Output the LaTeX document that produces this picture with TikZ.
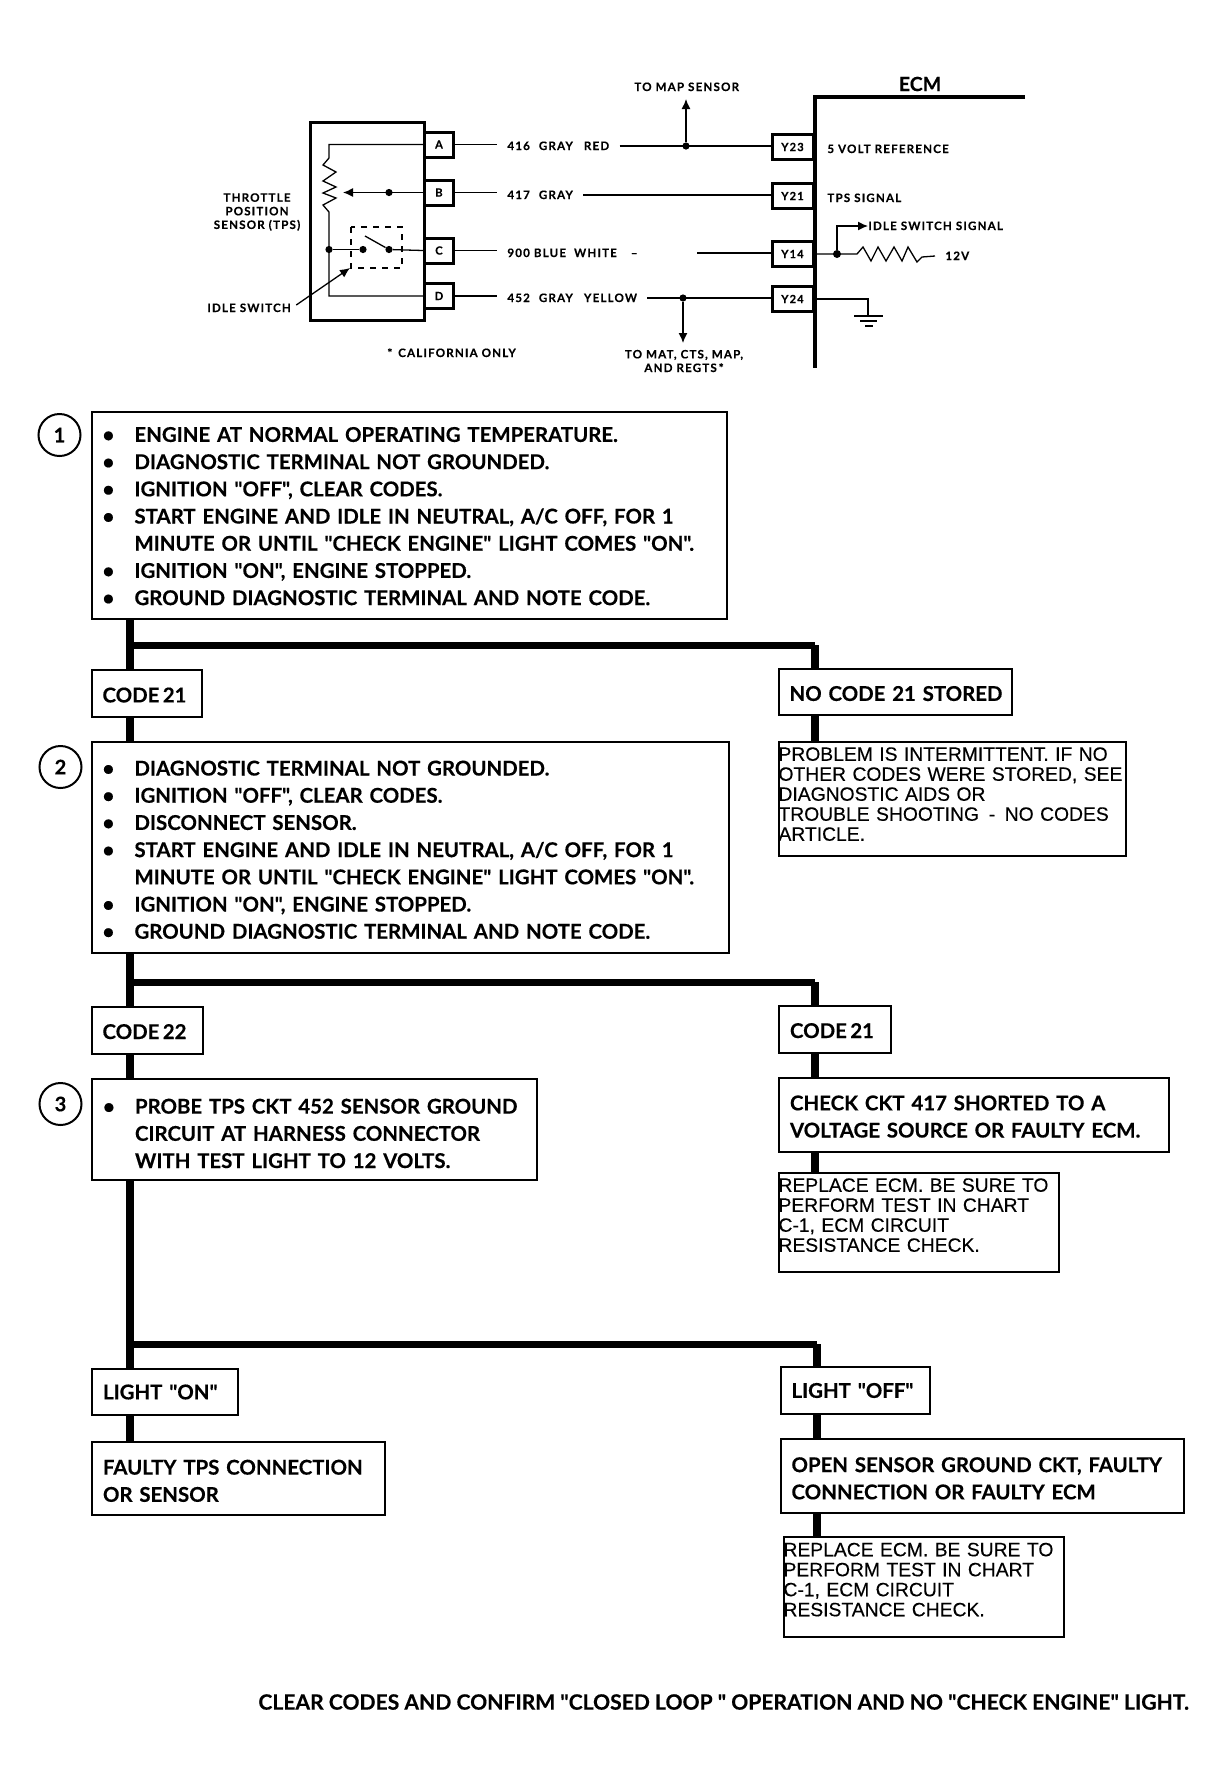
\documentclass[tikz,border=0pt]{standalone}
\usepackage{fontspec}
\usetikzlibrary{arrows.meta}
\setmainfont{Lato}[Ligatures=TeXOff, BoldFeatures={FakeBold=.35}]
\newfontfamily\wirefont{Lato}[LetterSpace=10, BoldFeatures={FakeBold=.3}]
\newfontfamily\notefont{Liberation Sans}[FakeBold=.25]

\tikzset{
	flowbox/.style={draw, line width=1pt, anchor=north west, inner xsep=5.5pt, inner ysep=0pt, align=left,
		font=\bfseries\fontsize{10.2}{13.6}\selectfont},
	notebox/.style={draw, line width=1pt, anchor=north west, inner xsep=0pt, inner ysep=0pt, align=left,
		font=\notefont\fontsize{9.65}{10}\selectfont},
	stepmark/.style={draw, circle, line width=1pt, minimum size=21pt, inner sep=0pt,
		font=\bfseries\fontsize{10}{12}\selectfont},
	pinbox/.style={draw, line width=1.5pt, inner sep=0pt, font=\wirefont\bfseries\fontsize{5.6}{6}\selectfont},
	tag/.style={inner sep=0pt, anchor=west, text height=4pt, text depth=0pt, font=\wirefont\bfseries\fontsize{5.8}{7}\selectfont},
	tagblock/.style={inner sep=0pt, align=center, font=\wirefont\bfseries\fontsize{5.8}{6.8}\selectfont},
	wiretag/.style={tag, inner xsep=5pt},
	jdot/.style={circle, fill, inner sep=0pt, minimum size=3.6pt},
	wire/.style={line width=.65pt},
	trunk/.style={line width=4pt},
	rail/.style={line width=3.5pt},
	tip/.style={-{Latex[length=5pt,width=4.5pt]}}
}

\newcommand{\bul}{\makebox[16pt][l]{\textbullet}}
\newcommand{\nobul}{\hspace*{16pt}}
\newcommand{\drop}[1]{\rule{0pt}{#1pt}}

\begin{document}
\begin{tikzpicture}[x=.5pt,y=-.5pt]

	\useasboundingbox (0,0) rectangle (1223,1784);

	% sensor
	\node (tps) at (309,121) [draw, line width=1.5pt, anchor=north west, minimum width=57pt, minimum height=99pt] {};

	\foreach \n/\t/\y in {pa/A/144.5, pb/B/192.5, pc/C/250.5, pd/D/296} {
		\node (\n) at (439,\y) [pinbox, fill=white, minimum width=14.5pt, minimum height=12.5pt] {\t};
	}

	\coordinate (rtop) at (329,144.5);
	\coordinate (rbot) at (329,296);
	\node (jres) at (329,249.5) [jdot] {};
	\node (sw) at (363,249.5) [jdot] {};
	\node (swb) at (389,249.5) [jdot] {};
	\node (wipe) at (389,192.5) [jdot] {};
	\coordinate (wtip) at (343,192.5);
	\coordinate (bladeend) at (365,236);

	\draw [wire] (pa.west) -- (rtop) -- (329,158) -- (323,165) -- (336,172) -- (323,181) -- (336,187)
		-- (323,193) -- (336,198) -- (323,205) -- (329,212) -- (rbot) -- (pd.west);
	\draw [wire] (jres) -- (sw);
	\draw [wire] (swb) -- (pc.west);
	\draw [wire] (bladeend) -- (swb);
	\draw [wire, tip] (pb.west) -- (wtip);
	\draw [wire, dash pattern=on 3pt off 3pt] (351,227) rectangle (402,268);

	\node (idle) at (207,308) [tag] {IDLE SWITCH};
	\coordinate (idletip) at (350,268);
	\draw [wire, tip] (idle.east)++(5,-3) -- (idletip);

	\node (tpsname) at (257,212) [tagblock] {THROTTLE\\POSITION\\SENSOR (TPS)};
	\node (calif) at (387,353) [tag] {* \,CALIFORNIA ONLY};

	% ecm side
	\coordinate (ecmtop) at (815,97);
	\coordinate (ecmend) at (1025,97);
	\coordinate (ecmbot) at (815,368);
	\draw [line width=2.4pt] (ecmend) -- (ecmtop) -- (ecmbot);
	\node (ecm) at (920,84) [font=\bfseries\fontsize{9.8}{11}\selectfont, inner sep=0pt] {ECM};

	\foreach \n/\t/\y in {ya/Y23/147, yb/Y21/196, yc/Y14/254, yd/Y24/299} {
		\node (\n) at (792.5,\y) [pinbox, fill=white, minimum width=20.5pt, minimum height=12.5pt] {\t};
	}

	\node (laba) at (497,146) [wiretag] {416\hspace{2.5pt} GRAY\hspace{3.5pt} RED};
	\node (labb) at (497,195) [wiretag] {417\hspace{2.5pt} GRAY};
	\node (labc) at (497,253) [wiretag] {900 BLUE\hspace{2pt} WHITE\hspace{5pt} –};
	\node (labd) at (497,298) [wiretag] {452\hspace{2.5pt} GRAY\hspace{3.5pt} YELLOW};
	\coordinate (labcr) at (697,253);

	\draw [wire] (pa.east) -- (pa.east -| laba.west);
	\draw [wire] (pb.east) -- (pb.east -| labb.west);
	\draw [wire] (pc.east) -- (pc.east -| labc.west);
	\draw [wire] (pd.east) -- (pd.east -| labd.west);
	\draw [wire] (laba.east) -- (laba.east -| ya.west);
	\draw [wire] (labb.east) -- (labb.east -| yb.west);
	\draw [wire] (labcr) -- (labcr -| yc.west);
	\draw [wire] (labd.east) -- (labd.east -| yd.west);

	\node (jmap) at (686,146) [jdot] {};
	\node (jmat) at (683,298) [jdot] {};
	\coordinate (maptip) at (686,99);
	\coordinate (mattip) at (683,343);
	\node (tomap) at (634,87) [tag] {TO MAP SENSOR};
	\node (tomat) at (684,361) [tagblock] {TO MAT, CTS, MAP,\\AND REGTS\,*};
	\draw [wire, tip] (jmap) -- (maptip);
	\draw [wire, tip] (jmat) -- (mattip);

	\node (vref) at (827,149) [tag] {5 VOLT REFERENCE};
	\node (tpssig) at (827,198) [tag] {TPS SIGNAL};
	\node (idlesig) at (868,226) [tag] {IDLE SWITCH SIGNAL};
	\node (vbat) at (945,256) [tag] {12V};

	\node (jidle) at (837,254) [jdot, minimum size=4pt] {};
	\draw [wire] (yc.east) -- (857,254) -- (863,247) -- (871,261) -- (878,247) -- (886,261) -- (894,247)
		-- (902,261) -- (908,247) -- (917,262) -- (922,257) -- (935,256);
	\draw [wire, tip] (jidle) |- (idlesig.west);

	\coordinate (gnd) at (868,316);
	\draw [wire] (yd.east) -| (gnd);
	\draw [wire] (854,316) -- (883,316);
	\draw [wire] (860,321) -- (877,321);
	\draw [wire] (865,326) -- (873,326);

	% first step
	\node (stepa) at (90.5,411) [flowbox, text width=306.5pt, minimum height=103.5pt] {%
		\drop{8.1}\bul ENGINE AT NORMAL OPERATING TEMPERATURE.\\
		\bul DIAGNOSTIC TERMINAL NOT GROUNDED.\\
		\bul IGNITION "OFF", CLEAR CODES.\\
		\bul START ENGINE AND IDLE IN NEUTRAL, A/C OFF, FOR 1\\
		\nobul MINUTE OR UNTIL "CHECK ENGINE" LIGHT COMES "ON".\\
		\bul IGNITION "ON", ENGINE STOPPED.\\
		\bul GROUND DIAGNOSTIC TERMINAL AND NOTE CODE.};
	\node (marka) at (59.5,435) [stepmark] {1};

	\node (codea) at (90.5,669) [flowbox, text width=44pt, minimum height=23.5pt] {\drop{9}CODE\,21};
	\node (nocode) at (777.5,668) [flowbox, text width=105.5pt, minimum height=23pt] {\drop{9}\mbox{NO CODE 21 STORED}};
	\node (intermit) at (777.5,741) [notebox, text width=173.7pt, minimum height=57pt] {%
		PROBLEM IS INTERMITTENT. IF NO\\
		\mbox{OTHER CODES WERE STORED, SEE}\\
		DIAGNOSTIC AIDS OR\\
		TROUBLE SHOOTING \,-\, NO CODES\\
		ARTICLE.\\[-5pt]\mbox{}};

	% second step
	\node (stepb) at (90.5,741) [flowbox, text width=307.5pt, minimum height=105.5pt] {%
		\drop{9.7}\bul DIAGNOSTIC TERMINAL NOT GROUNDED.\\
		\bul IGNITION "OFF", CLEAR CODES.\\
		\bul DISCONNECT SENSOR.\\
		\bul START ENGINE AND IDLE IN NEUTRAL, A/C OFF, FOR 1\\
		\nobul MINUTE OR UNTIL "CHECK ENGINE" LIGHT COMES "ON".\\
		\bul IGNITION "ON", ENGINE STOPPED.\\
		\bul GROUND DIAGNOSTIC TERMINAL AND NOTE CODE.};
	\node (markb) at (60.5,767) [stepmark] {2};

	\node (codeb) at (90.5,1006) [flowbox, text width=44.5pt, minimum height=23.5pt] {\drop{8.6}CODE\,22};
	\node (codec) at (778,1005) [flowbox, text width=45pt, minimum height=23.5pt] {\drop{8.6}CODE\,21};
	\node (check) at (778,1077) [flowbox, text width=184pt, minimum height=37pt] {%
		\drop{9}CHECK CKT 417 SHORTED TO A\\
		\mbox{VOLTAGE SOURCE OR FAULTY ECM.}};
	\node (replacea) at (777.5,1172) [notebox, text width=140pt, minimum height=49.5pt] {%
		REPLACE ECM. BE SURE TO\\
		PERFORM TEST IN CHART\\
		C-1, ECM CIRCUIT\\
		RESISTANCE CHECK.\\[-2.5pt]\mbox{}};

	% third step
	\node (stepc) at (91,1078) [flowbox, text width=211.5pt, minimum height=50.5pt] {%
		\drop{11.4}\bul \mbox{PROBE TPS CKT 452 SENSOR GROUND}\\
		\nobul CIRCUIT AT HARNESS CONNECTOR\\
		\nobul WITH TEST LIGHT TO 12 VOLTS.};
	\node (markc) at (60.5,1104) [stepmark] {3};

	\node (lighton) at (91,1368) [flowbox, text width=62pt, minimum height=23pt] {\mbox{LIGHT "ON"}};
	\node (lightoff) at (779.5,1366) [flowbox, text width=63.5pt, minimum height=23.5pt] {\mbox{LIGHT "OFF"}};
	\node (faulty) at (91,1441) [flowbox, text width=135.5pt, minimum height=36.5pt] {%
		\drop{9.8}FAULTY TPS CONNECTION\\
		OR SENSOR};
	\node (opengnd) at (779.5,1438) [flowbox, text width=190.7pt, minimum height=37pt] {%
		\drop{9.8}\mbox{OPEN SENSOR GROUND CKT, FAULTY}\\
		CONNECTION OR FAULTY ECM};
	\node (replaceb) at (782.5,1536) [notebox, text width=140.3pt, minimum height=50pt] {%
		REPLACE ECM. BE SURE TO\\
		PERFORM TEST IN CHART\\
		C-1, ECM CIRCUIT\\
		RESISTANCE CHECK.\\[-2.5pt]\mbox{}};

	\node (closing) at (258,1702) [anchor=west, inner sep=0pt, font=\bfseries\fontsize{10.55}{12}\selectfont] {CLEAR CODES AND CONFIRM "CLOSED LOOP " OPERATION AND NO "CHECK ENGINE" LIGHT.};

	% connectors
	\coordinate (forka) at (129.5,645);
	\coordinate (forkb) at (129.5,982);
	\coordinate (forkc) at (129.5,1344);
	\coordinate (righta) at (815,645);
	\coordinate (rightb) at (815,982);
	\coordinate (rightc) at (817,1344);

	\draw [trunk] (stepa.south -| forka) -- (forka) -- (codea.north -| forka);
	\draw [rail] (forka) -- (righta);
	\draw [trunk] (righta) -- (nocode.north -| righta);
	\draw [trunk] (codea.south -| forka) -- (stepb.north -| forka);
	\draw [trunk] (nocode.south -| righta) -- ++(0,25);

	\draw [trunk] (stepb.south -| forkb) -- (forkb) -- (codeb.north -| forkb);
	\draw [rail] (forkb) -- (rightb);
	\draw [trunk] (rightb) -- (codec.north -| rightb);
	\draw [trunk] (codeb.south -| forkb) -- (stepc.north -| forkb);
	\draw [trunk] (codec.south -| rightb) -- (check.north -| rightb);
	\draw [trunk] (check.south -| rightb) -- (replacea.north -| rightb);

	\draw [trunk] (stepc.south -| forkc) -- (forkc) -- (lighton.north -| forkc);
	\draw [rail] (forkc) -- (rightc);
	\draw [trunk] (rightc) -- (lightoff.north -| rightc);
	\draw [trunk] (lighton.south -| forkc) -- (faulty.north -| forkc);
	\draw [trunk] (lightoff.south -| rightc) -- (opengnd.north -| rightc);
	\draw [trunk] (opengnd.south -| rightc) -- (replaceb.north -| rightc);

\end{tikzpicture}
\end{document}
